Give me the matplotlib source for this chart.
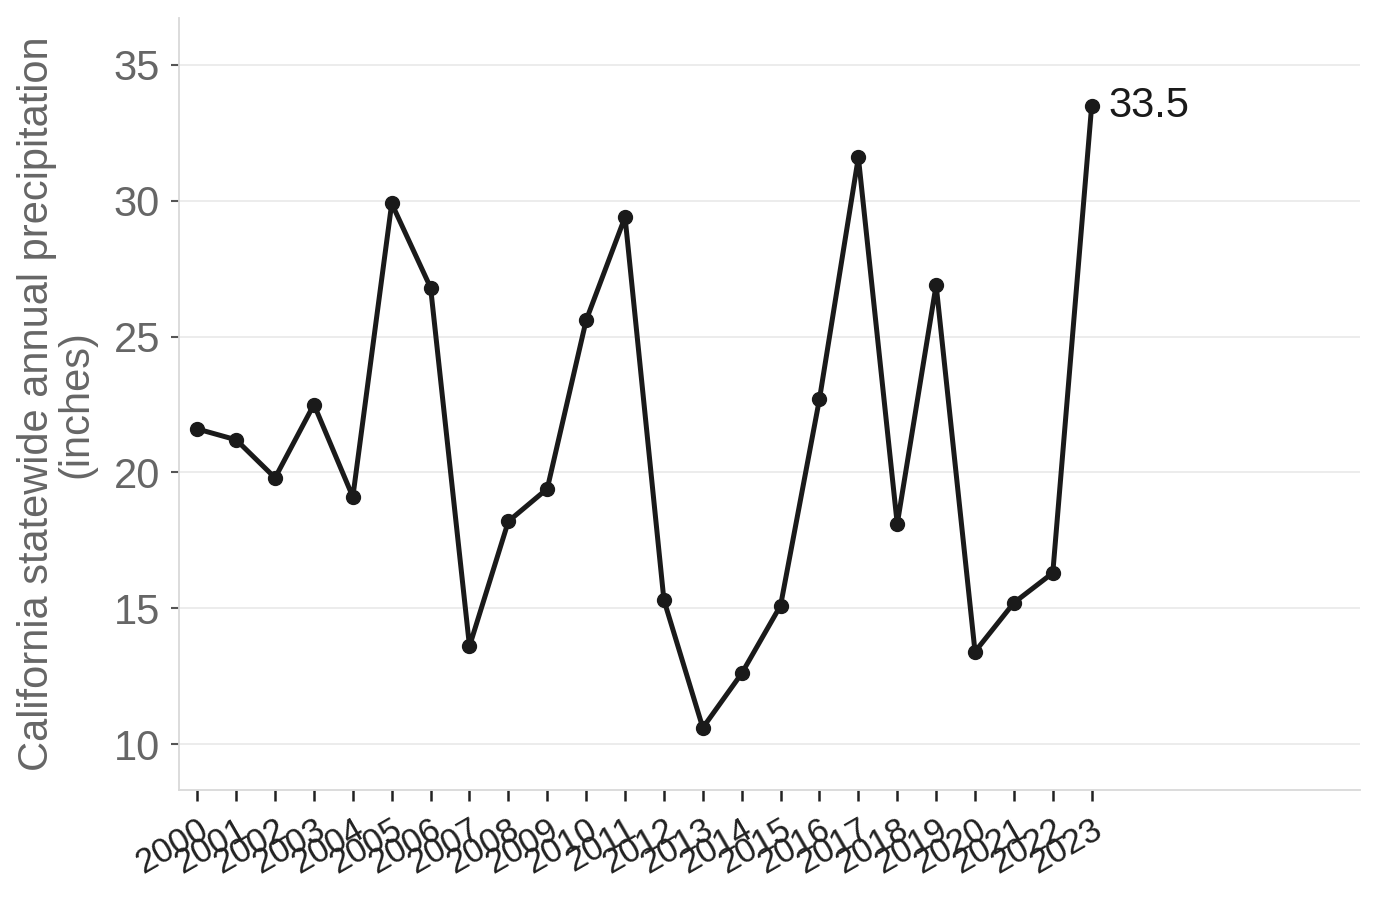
import numpy as np
import matplotlib
matplotlib.use("Agg")
from matplotlib import pyplot as plt

plt.rcParams['font.family'] = ['Liberation Sans', 'DejaVu Sans']

years = [str(y) for y in range(2000, 2024)]
precip = [21.6, 21.2, 19.8, 22.5, 19.1, 29.9, 26.8, 13.6, 18.2, 19.4,
          25.6, 29.4, 15.3, 10.6, 12.6, 15.1, 22.7, 31.6, 18.1, 26.9,
          13.4, 15.2, 16.3, 33.5]

fig = plt.figure(figsize=(13.8, 8.98), dpi=100)
ax = fig.add_axes([0.130, 0.120, 0.8555, 0.860])

x = np.arange(len(years))
ax.plot(x, precip, color='#1a1a1a', lw=3.6, marker='o', ms=10, zorder=3)
ax.annotate(f"{precip[-1]}", (x[-1], precip[-1]), xytext=(12, 0),
            textcoords='offset points', va='center', ha='left',
            fontsize=30, color='#1a1a1a')

ax.set_xlim(-0.46, 29.9)
ax.set_ylim(8.3, 36.73)
ax.set_yticks([10, 15, 20, 25, 30, 35])
ax.set_xticks(x)
ax.set_xticklabels(years, rotation=30, ha='right', rotation_mode='anchor',
                   fontsize=25, color='#222222')
ax.tick_params(axis='y', labelsize=30, labelcolor='#666666', color='#555555',
               length=6, width=1.5, pad=8)
ax.tick_params(axis='x', color='#222222', length=8, width=1.8, pad=8)

ax.yaxis.grid(True, color='#ebebeb', lw=1.3)
ax.set_axisbelow(True)
for s in ['top', 'right']:
    ax.spines[s].set_visible(False)
for s in ['left', 'bottom']:
    ax.spines[s].set_color('#d9d9d9')
    ax.spines[s].set_linewidth(1.3)

ax.set_ylabel("California statewide annual precipitation\n(inches)",
              fontsize=30, color='#666666', linespacing=1.0, labelpad=12)

fig.savefig('out.png', dpi=100)
